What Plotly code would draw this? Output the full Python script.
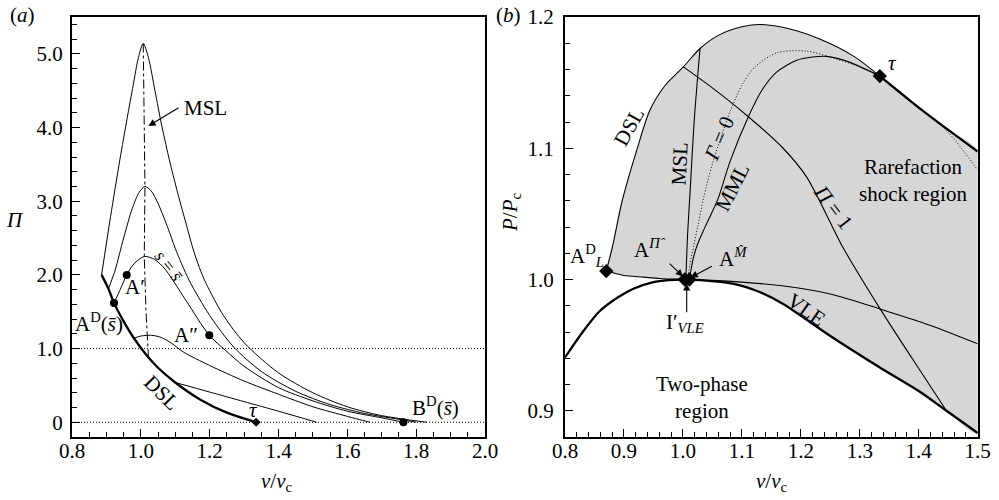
import plotly.graph_objects as go

# ---------------- Panel (a): Pi vs v/vc ----------------
dsl_a_x = [0.886, 0.906, 0.922, 0.95, 0.98, 1.015, 1.05, 1.10, 1.172, 1.25, 1.335]
dsl_a_y = [2.0, 1.81, 1.62, 1.37, 1.14, 0.92, 0.74, 0.54, 0.31, 0.13, 0.0]

c1_x = [0.886, 0.912, 0.939, 0.960, 0.978, 0.993, 1.007, 1.022, 1.041, 1.061, 1.085, 1.11, 1.13, 1.15, 1.17, 1.19, 1.24, 1.30, 1.40, 1.50, 1.60, 1.70, 1.83]
c1_y = [2.0, 2.79, 3.56, 4.12, 4.58, 4.95, 5.14, 4.95, 4.50, 4.02, 3.52, 3.06, 2.72, 2.38, 2.10, 1.88, 1.45, 1.08, 0.67, 0.40, 0.21, 0.09, 0.0]

c2_x = [0.906, 0.925, 0.95, 0.975, 0.995, 1.012, 1.03, 1.05, 1.08, 1.10, 1.14, 1.20, 1.27, 1.35, 1.45, 1.55, 1.65, 1.75, 1.80]
c2_y = [1.81, 2.06, 2.5, 2.9, 3.12, 3.2, 3.14, 2.97, 2.62, 2.36, 1.93, 1.45, 1.02, 0.69, 0.42, 0.24, 0.12, 0.04, 0.0]

c3_x = [0.922, 0.94, 0.959, 0.98, 1.01, 1.04, 1.07, 1.09, 1.133, 1.199, 1.245, 1.30, 1.40, 1.50, 1.60, 1.70, 1.763]
c3_y = [1.62, 1.80, 2.0, 2.15, 2.25, 2.21, 2.08, 1.95, 1.64, 1.18, 0.98, 0.76, 0.47, 0.29, 0.15, 0.06, 0.0]

c4_x = [0.98, 1.0, 1.032, 1.06, 1.09, 1.123, 1.20, 1.30, 1.40, 1.50, 1.60, 1.666]
c4_y = [1.14, 1.17, 1.18, 1.15, 1.07, 0.955, 0.77, 0.56, 0.38, 0.21, 0.08, 0.0]

c5_x = [1.10, 1.20, 1.30, 1.40, 1.511]
c5_y = [0.54, 0.41, 0.28, 0.15, 0.0]

msl_a_x = [1.007, 1.012, 1.010, 1.015, 1.022]
msl_a_y = [5.14, 3.2, 2.25, 1.5, 0.9]

pts_a_x = [0.922, 0.959, 1.199, 1.763]
pts_a_y = [1.62, 2.0, 1.18, 0.0]

# ---------------- Panel (b): P/Pc vs v/vc ----------------
dsl_b_x = [0.870, 0.88, 0.897, 0.922, 0.944, 0.97, 1.0007, 1.029, 1.06, 1.10, 1.131, 1.18, 1.233, 1.29, 1.334, 1.40, 1.45, 1.50]
dsl_b_y = [1.0064, 1.024, 1.060, 1.099, 1.129, 1.148, 1.162, 1.176, 1.186, 1.1925, 1.1943, 1.191, 1.183, 1.170, 1.155, 1.131, 1.114, 1.0975]

vle_x = [0.80, 0.83, 0.859, 0.89, 0.916, 0.95, 0.975, 1.0, 1.03, 1.086, 1.13, 1.17, 1.25, 1.334, 1.40, 1.447, 1.50]
vle_y = [0.9406, 0.96, 0.976, 0.9865, 0.993, 0.998, 0.9995, 1.0, 0.9995, 0.9967, 0.9905, 0.9814, 0.957, 0.933, 0.915, 0.90, 0.883]

thin_x = [0.870, 0.8877, 0.90, 0.933, 0.96, 1.0, 1.05, 1.10, 1.165, 1.25, 1.334, 1.42, 1.50]
thin_y = [1.0064, 1.0044, 1.0030, 1.0018, 1.0008, 1.0, 0.9993, 0.998, 0.9954, 0.989, 0.9776, 0.965, 0.951]

msl_b_x = [1.005, 1.008, 1.012, 1.019, 1.029]
msl_b_y = [1.0, 1.035, 1.0656, 1.12, 1.176]

pi1_x = [1.0007, 1.05, 1.111, 1.17, 1.21, 1.272, 1.334, 1.39, 1.447]
pi1_y = [1.162, 1.146, 1.124, 1.100, 1.078, 1.024, 0.978, 0.939, 0.900]

mml_x = [1.011, 1.014, 1.018, 1.025, 1.035, 1.046, 1.06, 1.08, 1.111, 1.135, 1.159, 1.193, 1.22, 1.244, 1.28, 1.334]
mml_y = [1.0, 1.008, 1.017, 1.027, 1.0375, 1.048, 1.062, 1.09, 1.124, 1.145, 1.158, 1.167, 1.1695, 1.170, 1.166, 1.155]

gam_x = [1.008, 1.012, 1.018, 1.025, 1.035, 1.05, 1.08, 1.10, 1.12, 1.159, 1.21, 1.26, 1.30, 1.334, 1.388, 1.45, 1.50]
gam_y = [1.0, 1.012, 1.025, 1.040, 1.062, 1.088, 1.128, 1.148, 1.161, 1.1727, 1.174, 1.168, 1.162, 1.155, 1.136, 1.112, 1.0834]

dia_b_x = [0.870, 1.003, 1.011, 1.334]
dia_b_y = [1.0064, 1.0, 1.0, 1.155]

FONT = "Liberation Serif, Times New Roman, DejaVu Serif, serif"
BLK = "black"
FS = 21
SM = 0.8

W, H = 999, 500
def PX(p):
    return p / W
def PY(p):
    return 1 - p / H

fig = go.Figure()

def line(x, y, xa="x", ya="y", w=1.0, dash="solid", shape="spline"):
    fig.add_trace(go.Scatter(x=x, y=y, mode="lines", xaxis=xa, yaxis=ya,
                             line=dict(color=BLK, width=w, dash=dash, shape=shape, smoothing=SM),
                             hoverinfo="skip", showlegend=False))

# panel a
line([0.8, 2.0], [1.0, 1.0], w=1, dash="1px,2px", shape="linear")
line([0.8, 2.0], [0.0, 0.0], w=1, dash="1px,2px", shape="linear")
for cx, cy in [(c1_x, c1_y), (c2_x, c2_y), (c3_x, c3_y), (c4_x, c4_y), (c5_x, c5_y)]:
    line(cx, cy, w=1)
line(msl_a_x, msl_a_y, w=1, dash="dashdot", shape="linear")
line(dsl_a_x, dsl_a_y, w=2.3)
fig.add_trace(go.Scatter(x=pts_a_x, y=pts_a_y, mode="markers", marker=dict(color=BLK, size=8),
                         showlegend=False, hoverinfo="skip"))
fig.add_trace(go.Scatter(x=[dsl_a_x[-1]], y=[dsl_a_y[-1]], mode="markers",
                         marker=dict(color=BLK, size=7, symbol="diamond"),
                         showlegend=False, hoverinfo="skip"))

# panel b: shaded region
low_x = [v for v in vle_x if v >= 1.0][::-1] + [v for v in thin_x if v <= 1.0][::-1]
low_y = [vle_y[i] for i, v in enumerate(vle_x) if v >= 1.0][::-1] + [thin_y[i] for i, v in enumerate(thin_x) if v <= 1.0][::-1]
fig.add_trace(go.Scatter(x=dsl_b_x + low_x, y=dsl_b_y + low_y, mode="lines", fill="toself",
                         fillcolor="rgb(214,214,214)", line=dict(width=0, shape="spline", smoothing=SM),
                         xaxis="x2", yaxis="y2", showlegend=False, hoverinfo="skip"))
i_tau = dsl_b_x.index(1.334)
line(dsl_b_x[:i_tau + 1], dsl_b_y[:i_tau + 1], "x2", "y2", w=1.1)
line(dsl_b_x[i_tau:], dsl_b_y[i_tau:], "x2", "y2", w=2.3)
line(thin_x, thin_y, "x2", "y2", w=1.1)
line(vle_x, vle_y, "x2", "y2", w=2.3)
line(msl_b_x, msl_b_y, "x2", "y2", w=1.1)
line(pi1_x, pi1_y, "x2", "y2", w=1.1)
line(mml_x, mml_y, "x2", "y2", w=1.1)
line(gam_x, gam_y, "x2", "y2", w=1, dash="1px,2px")
fig.add_trace(go.Scatter(x=dia_b_x, y=dia_b_y, mode="markers", xaxis="x2", yaxis="y2",
                         marker=dict(color=BLK, size=11, symbol="diamond"),
                         showlegend=False, hoverinfo="skip"))

tf = dict(family=FONT, size=FS, color=BLK)
ax_common = dict(showline=True, linecolor=BLK, linewidth=2, mirror=True, ticks="inside",
                 ticklen=8, tickwidth=1.2, tickcolor=BLK, showgrid=False, zeroline=False,
                 tickfont=tf, automargin=False)
minor_common = dict(ticks="inside", ticklen=5, tickcolor=BLK, tickwidth=1)

ydom = [PY(437), PY(17)]
fig.update_layout(
    width=W, height=H, margin=dict(l=0, r=0, t=0, b=0, pad=0),
    font=dict(family=FONT, size=FS, color=BLK),
    paper_bgcolor="white", plot_bgcolor="white", showlegend=False,
    xaxis=dict(domain=[PX(72), PX(485)], range=[0.8, 2.0], anchor="y",
               tickvals=[0.8, 1.0, 1.2, 1.4, 1.6, 1.8, 2.0],
               ticktext=["0.8", "1.0", "1.2", "1.4", "1.6", "1.8", "2.0"],
               minor=dict(dtick=0.05, **minor_common), ticklabelstandoff=-6,
               **ax_common),
    yaxis=dict(domain=ydom, range=[-0.2, 5.5], anchor="x",
               tickvals=[0, 1, 2, 3, 4, 5], ticktext=["0", "1.0", "2.0", "3.0", "4.0", "5.0"],
               minor=dict(dtick=0.2, tick0=0, **minor_common), ticklabelstandoff=3,
               **ax_common),
    xaxis2=dict(domain=[PX(565), PX(977.7)], range=[0.8, 1.5], anchor="y2",
                tickvals=[0.8, 0.9, 1.0, 1.1, 1.2, 1.3, 1.4, 1.5],
                ticktext=["0.8", "0.9", "1.0", "1.1", "1.2", "1.3", "1.4", "1.5"],
                minor=dict(dtick=0.02, tick0=0.8, **minor_common), ticklabelstandoff=-6,
                **ax_common),
    yaxis2=dict(domain=ydom, range=[0.88, 1.2], anchor="x2",
                tickvals=[0.9, 1.0, 1.1, 1.2], ticktext=["0.9", "1.0", "1.1", "1.2"],
                minor=dict(dtick=0.02, tick0=0.8, **minor_common), ticklabelstandoff=5,
                **ax_common),
)

ann = []
def txt(x, y, t, xr="x", yr="y", ang=0, size=FS, xanchor="center", yanchor="middle"):
    ann.append(dict(x=x, y=y, xref=xr, yref=yr, text=t, showarrow=False, textangle=ang,
                    font=dict(family=FONT, size=size, color=BLK), xanchor=xanchor, yanchor=yanchor))

def arrow(x0, y0, x1, y1, xr="x", yr="y"):
    ann.append(dict(x=x1, y=y1, ax=x0, ay=y0, xref=xr, yref=yr, axref=xr, ayref=yr, text="",
                    showarrow=True, arrowhead=2, arrowsize=1.3, arrowwidth=1.1, arrowcolor=BLK,
                    standoff=0, startstandoff=0))

# panel labels & axis titles (positions in page pixels)
txt(PX(22), PY(15), "(<i>a</i>)", "paper", "paper")
txt(PX(508), PY(15), "(<i>b</i>)", "paper", "paper")
txt(PX(15), PY(220), "<i>Π</i>", "paper", "paper")
txt(PX(277), PY(482), "<i>v</i>/<i>v</i><sub>c</sub>", "paper", "paper")
txt(PX(772), PY(482), "<i>v</i>/<i>v</i><sub>c</sub>", "paper", "paper")
txt(PX(511), PY(212), "<i>P</i>/<i>P</i><sub>c</sub>", "paper", "paper", ang=-90)

# panel a annotations
txt(1.119, 4.26, "MSL", xanchor="left")
arrow(1.114, 4.28, 1.022, 4.02)
txt(0.878, 1.36, "A<sup>D</sup>(<i>s̄</i>)")
txt(0.982, 1.84, "A′")
txt(1.130, 1.19, "A″")
txt(1.062, 0.40, "DSL", ang=45)
txt(1.327, 0.17, "<i>τ</i>")
txt(1.855, 0.22, "B<sup>D</sup>(<i>s̄</i>)")
txt(1.082, 2.12, "<i>s</i> = <i>s̄</i>", ang=52, size=18)

# panel b annotations
txt(0.908, 1.1165, "DSL", "x2", "y2", ang=-61)
txt(0.995, 1.0885, "MSL", "x2", "y2", ang=-87)
txt(1.062, 1.1077, "<i>Γ</i> = 0", "x2", "y2", ang=-67)
txt(1.084, 1.0706, "MML", "x2", "y2", ang=-63)
txt(1.255, 1.0553, "<i>Π</i> = 1", "x2", "y2", ang=53)
txt(1.390, 1.0757, "Rarefaction<br>shock region", "x2", "y2")
txt(1.21, 0.9770, "VLE", "x2", "y2", ang=35)
txt(1.032, 0.910, "Two-phase<br>region", "x2", "y2")
txt(1.356, 1.165, "<i>τ</i>", "x2", "y2")
txt(0.838, 1.018, "A<sup>D</sup><sub><i>L</i></sub>", "x2", "y2")
txt(0.944, 1.0235, "A<sup><i>Π̂</i></sup>", "x2", "y2")
txt(1.085, 1.017, "A<sup><i>M̂</i></sup>", "x2", "y2")
txt(1.0036, 0.9665, "I′<sub><i>VLE</i></sub>", "x2", "y2")
arrow(0.975, 1.0132, 1.0, 1.0023, "x2", "y2")
arrow(1.0516, 1.0107, 1.013, 1.0015, "x2", "y2")
arrow(1.0064, 0.974, 1.0064, 0.997, "x2", "y2")

fig.update_layout(annotations=ann)
fig.write_html("out.html")
